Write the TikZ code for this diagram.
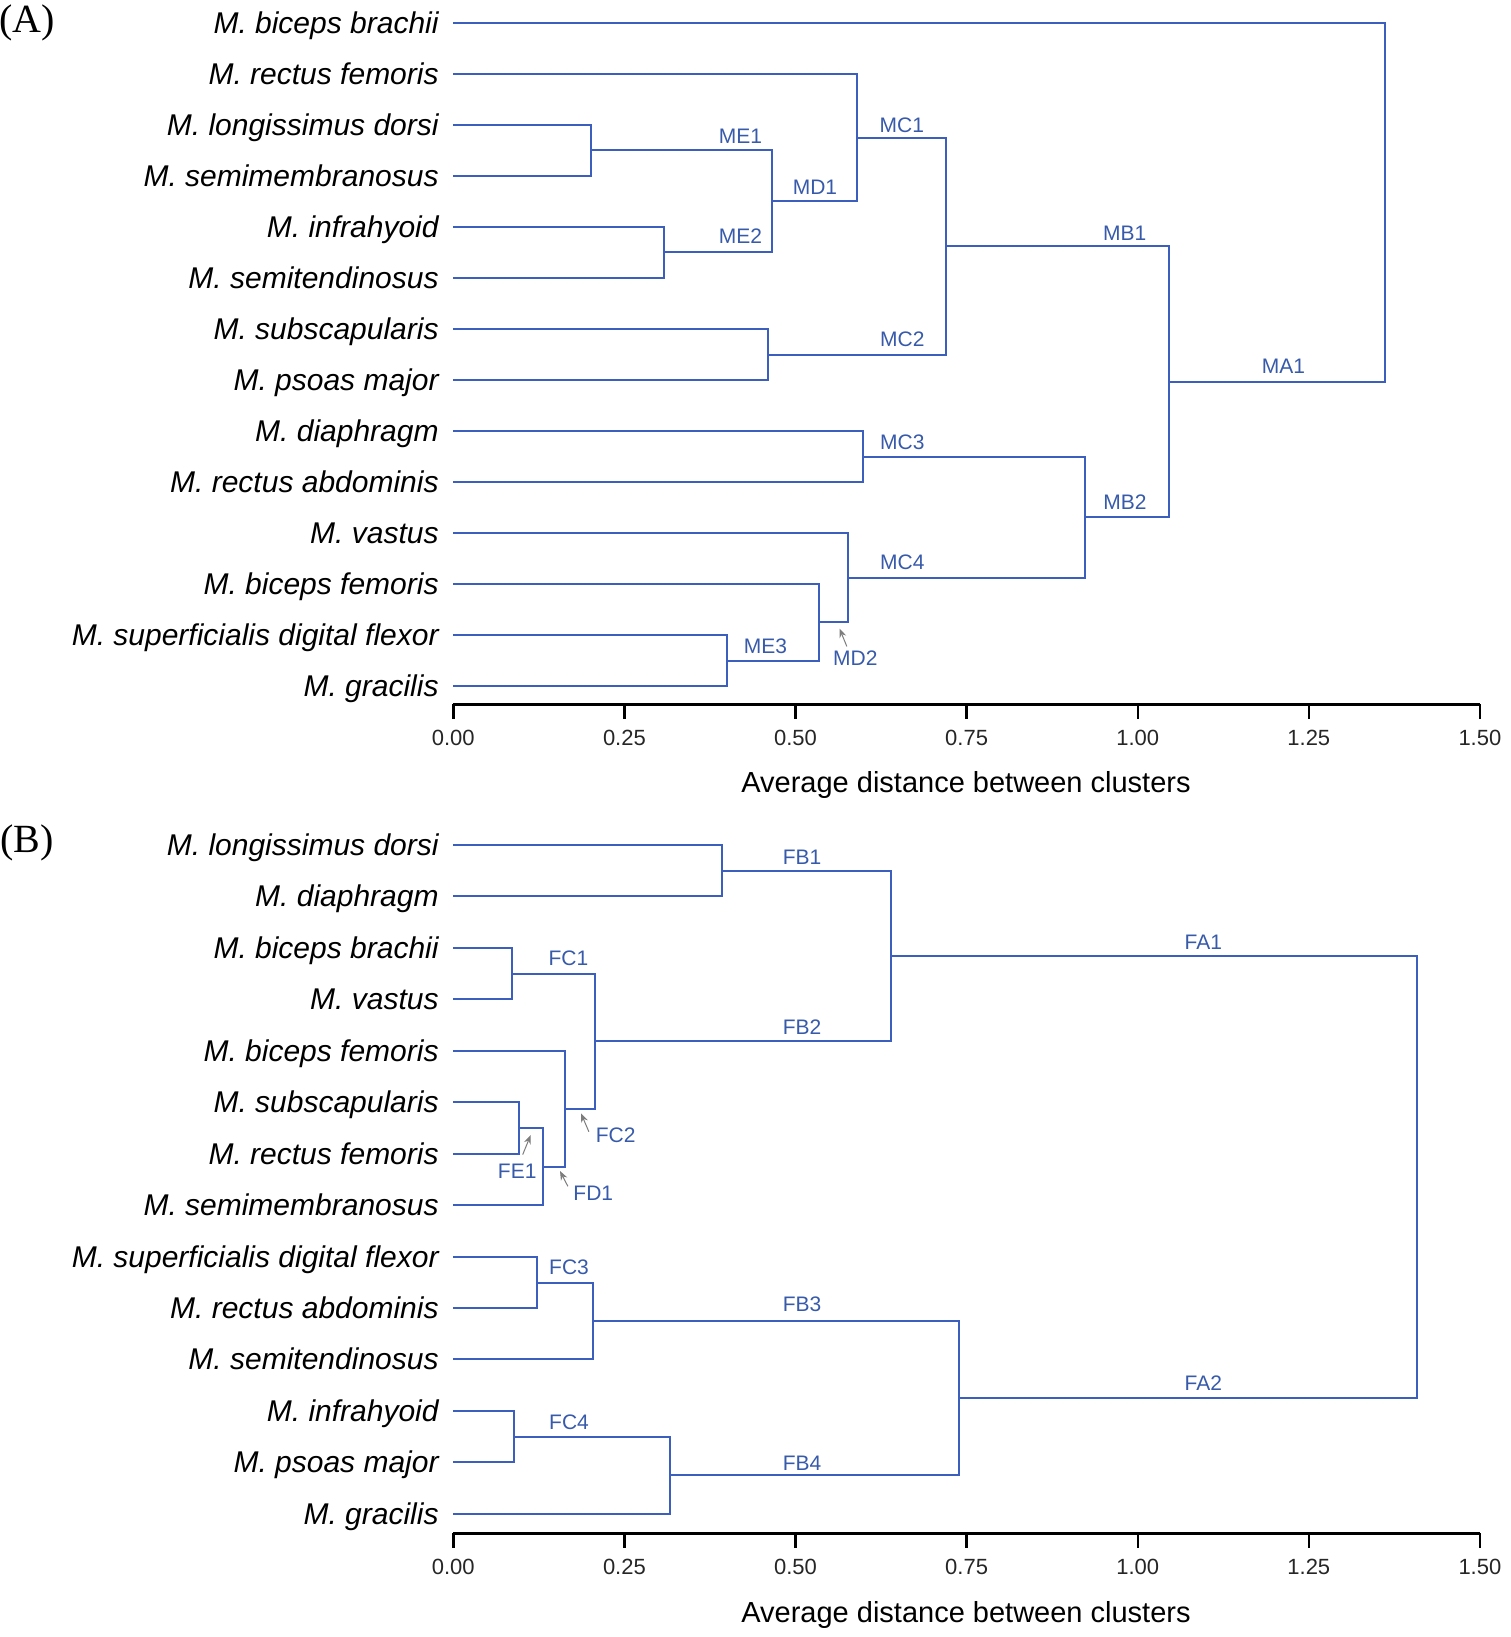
\documentclass[tikz,border=0pt]{standalone}
\usepackage{fontspec}
\setmainfont{Liberation Sans}
\newfontfamily\panelfont{Liberation Serif}
\usetikzlibrary{arrows.meta, calc}
\definecolor{treeblue}{RGB}{60, 95, 190}
\definecolor{tagblue}{RGB}{55, 90, 170}
\definecolor{pointgray}{RGB}{125, 125, 125}

% join two children at height #2 into cluster #1
\newcommand{\fuse}[4]{%
  \coordinate (#1-mid) at ($(#3)!0.5!(#4)$);
  \coordinate (#1) at (#2,0 |- #1-mid);
  \draw[branch] (#3) -| (#1) |- (#4);
}

\tikzset{
  leaf/.style={anchor=east, inner xsep=7pt, inner ysep=0pt, text height=10.7pt, text depth=0pt, font=\fontsize{15}{18}\selectfont\itshape},
  tag/.style={inner sep=0pt, text height=7.5pt, text depth=0pt, text=tagblue, font=\fontsize{10.5}{12}\selectfont},
  ticklabel/.style={inner sep=0pt, text height=7.9pt, text depth=0pt, text=black!85, font=\fontsize{11}{13}\selectfont},
  axistitle/.style={inner sep=0pt, text height=10.4pt, text depth=0pt, font=\fontsize{14.5}{17}\selectfont},
  panel/.style={font=\panelfont\fontsize{20}{24}\selectfont},
  branch/.style={draw=treeblue, line width=1pt},
  axisline/.style={draw=black, line width=1.2pt},
  pointer/.style={draw=pointgray, line width=0.5pt, -{Stealth[length=4.5pt, width=3.5pt]}},
}

\begin{document}
\begin{tikzpicture}[x=0.5pt, y=-0.5pt]
  \useasboundingbox (0,0) rectangle (1510,1637);

  % (A) leaves
  \node[panel] (pA) at (27,23) {(A)};
  \node[leaf] (a1) at (453,23) {M. biceps brachii};
  \node[leaf] (a2) at (453,74) {M. rectus femoris};
  \node[leaf] (a3) at (453,125) {M. longissimus dorsi};
  \node[leaf] (a4) at (453,176) {M. semimembranosus};
  \node[leaf] (a5) at (453,227) {M. infrahyoid};
  \node[leaf] (a6) at (453,278) {M. semitendinosus};
  \node[leaf] (a7) at (453,329) {M. subscapularis};
  \node[leaf] (a8) at (453,380) {M. psoas major};
  \node[leaf] (a9) at (453,431) {M. diaphragm};
  \node[leaf] (a10) at (453,482) {M. rectus abdominis};
  \node[leaf] (a11) at (453,533) {M. vastus};
  \node[leaf] (a12) at (453,584) {M. biceps femoris};
  \node[leaf] (a13) at (453,635) {M. superficialis digital flexor};
  \node[leaf] (a14) at (453,686) {M. gracilis};

  % (A) clusters
  \fuse{me1}{591}{a3.east}{a4.east}
  \fuse{me2}{664}{a5.east}{a6.east}
  \fuse{md1}{772}{me1}{me2}
  \fuse{mc1}{857}{a2.east}{md1}
  \fuse{mc2}{768}{a7.east}{a8.east}
  \fuse{mb1}{946}{mc1}{mc2}
  \fuse{mc3}{863}{a9.east}{a10.east}
  \fuse{me3}{727}{a13.east}{a14.east}
  \fuse{md2}{819}{a12.east}{me3}
  \fuse{mc4}{848}{a11.east}{md2}
  \fuse{mb2}{1085}{mc3}{mc4}
  \fuse{ma1}{1169}{mb1}{mb2}
  \fuse{mroot}{1385}{a1.east}{ma1}

  \node[tag] (tME1) at (740.5,136) {ME1};
  \node[tag] (tMD1) at (815,186.7) {MD1};
  \node[tag] (tME2) at (740.5,236) {ME2};
  \node[tag] (tMC1) at (901.8,125) {MC1};
  \node[tag] (tMC2) at (902.4,339.3) {MC2};
  \node[tag] (tMB1) at (1124.7,232.7) {MB1};
  \node[tag] (tMA1) at (1283.4,366) {MA1};
  \node[tag] (tMC3) at (902.4,441.7) {MC3};
  \node[tag] (tMB2) at (1125,501.7) {MB2};
  \node[tag] (tMC4) at (902.4,561.7) {MC4};
  \node[tag] (tME3) at (765.4,646) {ME3};
  \node[tag] (tMD2) at (855.4,658.3) {MD2};
  \coordinate (md2tip) at (839.5,628.5);
  \draw[pointer] ([xshift=-4.3pt, yshift=2pt]tMD2.north) -- (md2tip);

  % (B) leaves
  \node[panel] (pB) at (27,843) {(B)};
  \node[leaf] (b1) at (453,845) {M. longissimus dorsi};
  \node[leaf] (b2) at (453,896) {M. diaphragm};
  \node[leaf] (b3) at (453,948) {M. biceps brachii};
  \node[leaf] (b4) at (453,999) {M. vastus};
  \node[leaf] (b5) at (453,1051) {M. biceps femoris};
  \node[leaf] (b6) at (453,1102) {M. subscapularis};
  \node[leaf] (b7) at (453,1154) {M. rectus femoris};
  \node[leaf] (b8) at (453,1205) {M. semimembranosus};
  \node[leaf] (b9) at (453,1257) {M. superficialis digital flexor};
  \node[leaf] (b10) at (453,1308) {M. rectus abdominis};
  \node[leaf] (b11) at (453,1359) {M. semitendinosus};
  \node[leaf] (b12) at (453,1411) {M. infrahyoid};
  \node[leaf] (b13) at (453,1462) {M. psoas major};
  \node[leaf] (b14) at (453,1514) {M. gracilis};

  % (B) clusters
  \fuse{fb1}{722}{b1.east}{b2.east}
  \fuse{fc1}{512}{b3.east}{b4.east}
  \fuse{fe1}{519}{b6.east}{b7.east}
  \fuse{fd1}{543}{fe1}{b8.east}
  \fuse{fc2}{565}{b5.east}{fd1}
  \fuse{fb2}{595}{fc1}{fc2}
  \fuse{fa1}{891}{fb1}{fb2}
  \fuse{fc3}{537}{b9.east}{b10.east}
  \fuse{fb3}{593}{fc3}{b11.east}
  \fuse{fc4}{514}{b12.east}{b13.east}
  \fuse{fb4}{670}{fc4}{b14.east}
  \fuse{fa2}{959}{fb3}{fb4}
  \fuse{froot}{1417}{fa1}{fa2}

  \node[tag] (tFB1) at (802,856.7) {FB1};
  \node[tag] (tFA1) at (1203.4,941.7) {FA1};
  \node[tag] (tFC1) at (568.4,958.3) {FC1};
  \node[tag] (tFB2) at (802,1027.3) {FB2};
  \node[tag] (tFC2) at (615.6,1135) {FC2};
  \node[tag] (tFE1) at (517.2,1171) {FE1};
  \node[tag] (tFD1) at (593.3,1192.7) {FD1};
  \node[tag] (tFC3) at (569,1267.3) {FC3};
  \node[tag] (tFB3) at (802,1304) {FB3};
  \node[tag] (tFC4) at (569,1421.7) {FC4};
  \node[tag] (tFB4) at (802,1462.7) {FB4};
  \node[tag] (tFA2) at (1203.4,1383.3) {FA2};
  \coordinate (fc2tip) at (581,1113.3);
  \coordinate (fe1tip) at (530.7,1135);
  \coordinate (fd1tip) at (560,1171);
  \draw[pointer] ([xshift=-3.25pt, yshift=1.65pt]tFC2.west) -- (fc2tip);
  \draw[pointer] ([xshift=2.75pt, yshift=4.25pt]tFE1.north) -- (fe1tip);
  \draw[pointer] ([xshift=-2.6pt, yshift=-0.75pt]tFD1.north west) -- (fd1tip);

  % distance axes
  \coordinate (axA0) at (453.3,704.3);
  \coordinate (axA1) at (1479.8,704.3);
  \coordinate (axB0) at (453.3,1533.3);
  \coordinate (axB1) at (1479.8,1533.3);
  \draw[axisline] (axA0) -- (axA1);
  \draw[axisline] (axB0) -- (axB1);
  \foreach \ya/\yl in {704.3/738, 1533.3/1566.7} {
    \foreach \v/\t in {0/0.00, 0.25/0.25, 0.5/0.50, 0.75/0.75, 1/1.00, 1.25/1.25, 1.5/1.50} {
      \draw[axisline] ({453.3+684.4*\v},\ya) -- ++(0,15);
      \node[ticklabel] at ({453.3+684.4*\v},\yl) {\t};
    }
  }
  \node[axistitle] (titleA) at (966,782.2) {Average distance between clusters};
  \node[axistitle] (titleB) at (966,1611.7) {Average distance between clusters};
\end{tikzpicture}
\end{document}
